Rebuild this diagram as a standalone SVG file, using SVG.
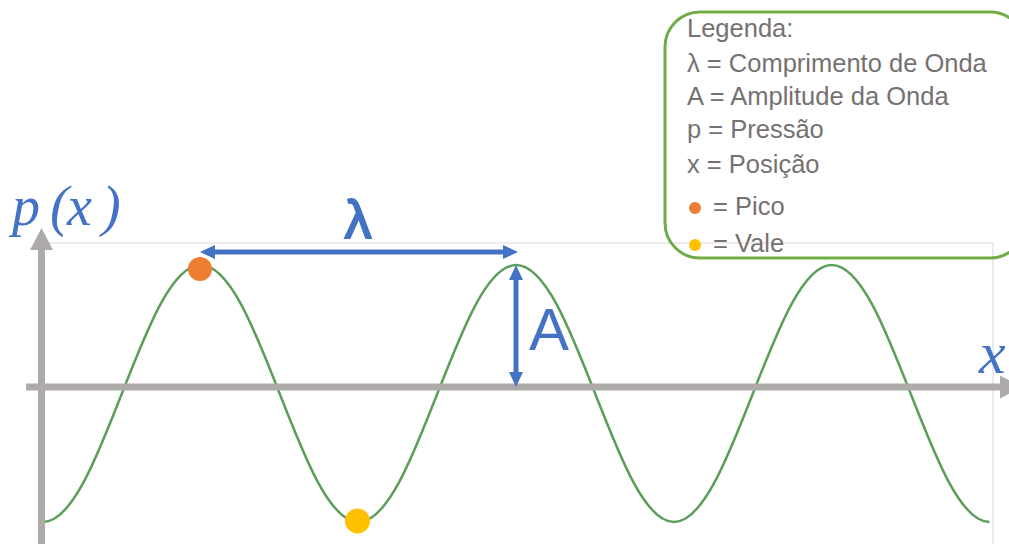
<svg xmlns="http://www.w3.org/2000/svg" width="1009" height="544" viewBox="0 0 1009 544">
<style>
.axis{stroke:#AEAAAA;stroke-width:7;fill:none}
.axhead{fill:#AEAAAA}
.dim{stroke:#4472C4;stroke-width:5;fill:none}
.blue{fill:#4472C4}
.leg{font-family:"Liberation Sans",Arial,sans-serif;font-size:25.5px;fill:#767171}
.math{font-family:"Liberation Serif","Times New Roman",serif;font-style:italic;fill:#4472C4}
</style>
<defs>
<marker id="ah" markerUnits="userSpaceOnUse" markerWidth="16" markerHeight="16" viewBox="0 -8 16 16" refX="0" refY="0" orient="auto-start-reverse">
<path d="M0,-7 L15,0 L0,7 z" fill="#4472C4"/>
</marker>
</defs>
<rect width="1009" height="544" fill="#FFFFFF"/>
<g id="plot-frame">
<path d="M41,544 V243 H993 V544" fill="none" stroke="#D9D9D9" stroke-width="1"/>
</g>
<g id="wave">
<path d="M43,522 c28.55,0 53.16,-62.67 78.875,-128.5 c25.72,-65.83 50.33,-128.5 78.875,-128.5 c28.55,0 53.16,62.67 78.875,128.5 c25.72,65.83 50.33,128.5 78.875,128.5 c28.55,0 53.16,-62.67 78.875,-128.5 c25.72,-65.83 50.33,-128.5 78.875,-128.5 c28.55,0 53.16,62.67 78.875,128.5 c25.72,65.83 50.33,128.5 78.875,128.5 c28.55,0 53.16,-62.67 78.875,-128.5 c25.72,-65.83 50.33,-128.5 78.875,-128.5 c28.55,0 53.16,62.67 78.875,128.5 c25.72,65.83 50.33,128.5 78.875,128.5" fill="none" stroke="#5A9E5A" stroke-width="2.5"/>
</g>
<g id="axes">
<line class="axis" x1="41.5" y1="544" x2="41.5" y2="249"/>
<polygon class="axhead" points="30,250 41.5,228 53,250"/>
<line class="axis" x1="26" y1="387" x2="1001" y2="387"/>
<polygon class="axhead" points="1000,375.5 1022,387 1000,398.5"/>
<text class="math" x="12 50 67 102" y="225" font-size="56">p(x)</text>
<text class="math" x="979" y="373" font-size="60">x</text>
</g>
<g id="connectors">
<line class="dim" x1="215" y1="252" x2="503" y2="252" marker-start="url(#ah)" marker-end="url(#ah)"/>
<line class="dim" x1="516" y1="280" x2="516" y2="372" marker-start="url(#ah)" marker-end="url(#ah)"/>
</g>
<g id="lambda-label">
<text x="358" y="238" text-anchor="middle" font-family="Liberation Sans, Arial, sans-serif" font-size="54" class="blue" stroke="#4472C4" stroke-width="1.8">λ</text>
</g>
<g id="amplitude-label">
<text x="529" y="350" font-family="Liberation Sans, Arial, sans-serif" font-size="60" class="blue">A</text>
</g>
<g id="peak">
<circle cx="200" cy="269" r="12" fill="#ED7D31"/>
</g>
<g id="valley">
<circle cx="357.5" cy="521" r="12.5" fill="#FFC000"/>
</g>
<g id="legend">
<rect x="665" y="12" width="360" height="246" rx="35" ry="35" fill="none" stroke="#70AD47" stroke-width="3"/>
<text class="leg" x="687" y="37">Legenda:</text>
<text class="leg" x="687" y="72">λ = Comprimento de Onda</text>
<text class="leg" x="687" y="105">A = Amplitude da Onda</text>
<text class="leg" x="687" y="138">p = Pressão</text>
<text class="leg" x="687" y="173">x = Posição</text>
<circle cx="695" cy="208" r="6" fill="#ED7D31"/>
<text class="leg" x="713" y="215">= Pico</text>
<circle cx="695" cy="245" r="6" fill="#FFC000"/>
<text class="leg" x="713" y="252">= Vale</text>
</g>
</svg>
